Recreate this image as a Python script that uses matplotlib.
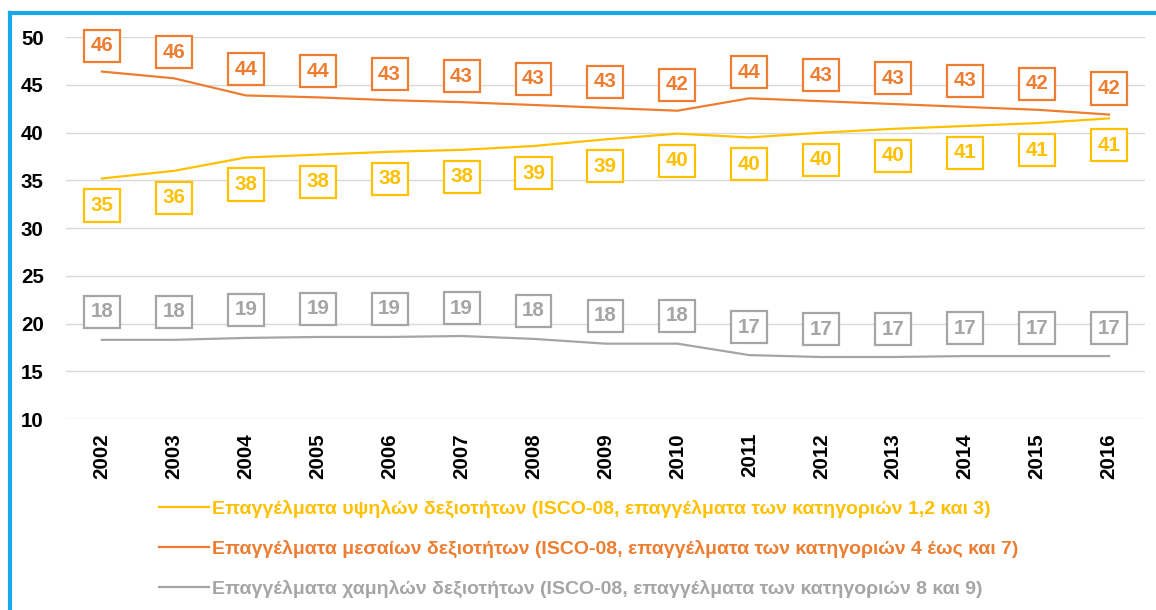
import matplotlib
matplotlib.use("Agg")
import matplotlib.pyplot as plt
from matplotlib import font_manager
from matplotlib.lines import Line2D
import numpy as np

# narrow bold font if present, otherwise normal sans
narrow_bold = any(f.name == 'Liberation Sans Narrow' and f.weight in (700, 'bold')
                  for f in font_manager.fontManager.ttflist)
main_font = 'Liberation Sans Narrow' if narrow_bold else 'Liberation Sans'
plt.rcParams['font.family'] = [main_font, 'DejaVu Sans']
size_k = 1.0 if narrow_bold else 0.92

# data
years = [str(y) for y in range(2002, 2017)]
high = [35.2, 36.0, 37.4, 37.7, 38.0, 38.2, 38.6, 39.3, 39.9, 39.5, 40.0, 40.4, 40.7, 41.0, 41.5]
medium = [46.4, 45.7, 43.9, 43.7, 43.4, 43.2, 42.9, 42.6, 42.3, 43.6, 43.3, 43.0, 42.7, 42.4, 41.9]
low = [18.3, 18.3, 18.5, 18.6, 18.6, 18.7, 18.4, 17.9, 17.9, 16.7, 16.5, 16.5, 16.6, 16.6, 16.6]

high_lbl = [35, 36, 38, 38, 38, 38, 39, 39, 40, 40, 40, 40, 41, 41, 41]
medium_lbl = [46, 46, 44, 44, 43, 43, 43, 43, 42, 44, 43, 43, 43, 42, 42]
low_lbl = [18, 18, 19, 19, 19, 19, 18, 18, 18, 17, 17, 17, 17, 17, 17]

names = [
    "Επαγγέλματα υψηλών δεξιοτήτων (ISCO-08, επαγγέλματα των κατηγοριών 1,2 και 3)",
    "Επαγγέλματα μεσαίων δεξιοτήτων (ISCO-08, επαγγέλματα των κατηγοριών 4 έως και 7)",
    "Επαγγέλματα χαμηλών δεξιοτήτων (ISCO-08, επαγγέλματα των κατηγοριών 8 και 9)",
]
colors = ['#FFC000', '#ED7D31', '#A5A5A5']

fig = plt.figure(figsize=(11.56, 6.10), dpi=100)
ax = fig.add_axes([0.057, 0.313, 0.9335, 0.626])

x = np.arange(len(years))
series = [(high, high_lbl, -27), (medium, medium_lbl, 26), (low, low_lbl, 28)]
for (vals, lbls, off), c in zip(series, colors):
    ax.plot(x, vals, color=c, lw=1.6)
    for xi, v, l in zip(x, vals, lbls):
        ax.annotate(str(l), (xi, v), xytext=(0, off), textcoords='offset pixels',
                    ha='center', va='center', fontsize=16 * size_k, fontweight='bold', color=c,
                    bbox=dict(boxstyle='square,pad=0.32', fc='white', ec=c, lw=1.6))

ax.set_ylim(10, 50)
ax.set_yticks(range(10, 51, 5))
ax.set_xlim(-0.5, len(years) - 0.5)
ax.set_xticks(x)
ax.set_xticklabels(years, rotation=90)
ax.grid(axis='y', color='#D9D9D9', lw=1)
ax.set_axisbelow(True)
for s in ax.spines.values():
    s.set_visible(False)
ax.tick_params(length=0, labelsize=16 * size_k)
ax.tick_params(axis='y', pad=16)
ax.tick_params(axis='x', pad=10)
for t in ax.get_xticklabels() + ax.get_yticklabels():
    t.set_fontweight('bold')

# legend: size so that the first line is about 780 px wide, as in the reference
probe = fig.text(0, 0, names[0], fontsize=14, fontweight='bold')
fig.canvas.draw()
fs = 14 * 780.0 / probe.get_window_extent().width
probe.remove()

handles = [Line2D([], [], color=c, lw=1.6) for c in colors]
leg = fig.legend(handles, names, loc='upper left', bbox_to_anchor=(0.122, 0.21),
                 frameon=False, prop={'size': fs, 'weight': 'bold'},
                 handlelength=2.6, handletextpad=0.15,
                 labelspacing=1.12, labelcolor='linecolor')

# blue frame
fig.add_artist(Line2D([0.009, 0.009], [0, 0.979], color='#1AA7E8', lw=3, transform=fig.transFigure))
fig.add_artist(Line2D([0.009, 1.0], [0.979, 0.979], color='#1AA7E8', lw=3, transform=fig.transFigure))

fig.savefig('out.png', dpi=100)
